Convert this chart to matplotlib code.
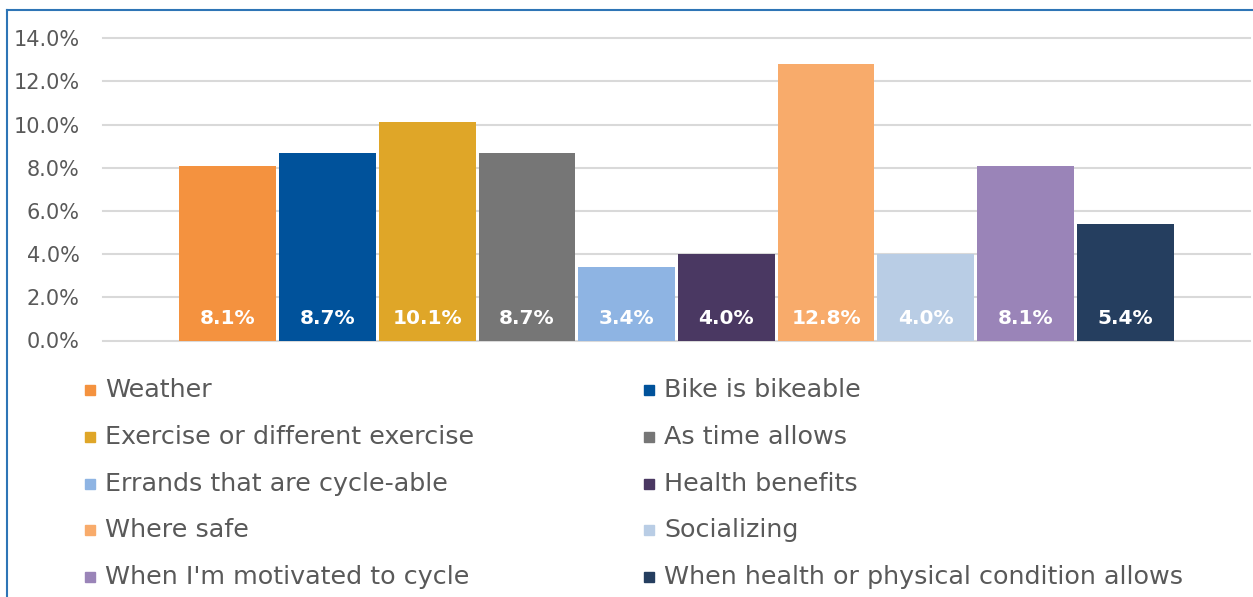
import matplotlib.pyplot as plt
from matplotlib.lines import Line2D
from matplotlib.patches import Rectangle

FONT = 'DejaVu Sans'
TEXT_GREY = '#595959'

categories = ['Weather', 'Bike is bikeable', 'Exercise or different exercise',
              'As time allows', 'Errands that are cycle-able', 'Health benefits',
              'Where safe', 'Socializing', "When I'm motivated to cycle",
              'When health or physical condition allows']
values = [8.1, 8.7, 10.1, 8.7, 3.4, 4.0, 12.8, 4.0, 8.1, 5.4]
colors = ['#F4923F', '#00529B', '#DFA628', '#767676', '#8EB4E3',
          '#4A3862', '#F8AB6B', '#B9CDE5', '#9A84B8', '#253E5F']
y_ticks = [0, 2, 4, 6, 8, 10, 12, 14]

W, H = 1253, 597
fig = plt.figure(figsize=(W / 100, H / 100), dpi=100)
ax = fig.add_axes([103 / W, 1 - 340.5 / H, (1250 - 103) / W, (340.5 - 38.3) / H])

x = list(range(len(values)))
ax.bar(x, values, width=0.97, color=colors, zorder=3)
for xi, v in zip(x, values):
    ax.text(xi, 1.0, f'{v:.1f}%', ha='center', va='center', color='white',
            fontsize=14.5, fontweight='bold', family=FONT, zorder=4)

ax.set_xlim(-1.25, len(values) + 0.25)
ax.set_ylim(0, 14)
ax.set_yticks(y_ticks)
ax.set_yticklabels([f'{t:.1f}%' for t in y_ticks], family=FONT, fontsize=15, color=TEXT_GREY)
ax.tick_params(axis='y', length=0, pad=17)
ax.set_xticks([])
ax.grid(axis='y', color='#D9D9D9', linewidth=1.5, zorder=0)
for gl in ax.get_ygridlines():
    gl.set_clip_on(False)
for s in ax.spines.values():
    s.set_visible(False)

# legend, two columns filled row by row
row_y = [390, 437, 484, 530, 577]
col_x = [85, 644]
for i, (lab, c) in enumerate(zip(categories, colors)):
    cx = col_x[i % 2]
    cy = row_y[i // 2]
    fig.patches.append(Rectangle((cx / W, 1 - (cy + 5) / H), 10 / W, 10 / H,
                                 transform=fig.transFigure, color=c))
    fig.text((cx + 20) / W, 1 - cy / H, lab, ha='left', va='center',
             family=FONT, fontsize=18.3, color=TEXT_GREY)

# chart frame (top and left edges visible)
frame = '#2E75B6'
fig.add_artist(Line2D([7 / W, 1], [1 - 10 / H, 1 - 10 / H], color=frame, linewidth=1.5))
fig.add_artist(Line2D([7 / W, 7 / W], [0, 1 - 10 / H], color=frame, linewidth=1.5))

fig.savefig('out.png', dpi=100, facecolor='white')
